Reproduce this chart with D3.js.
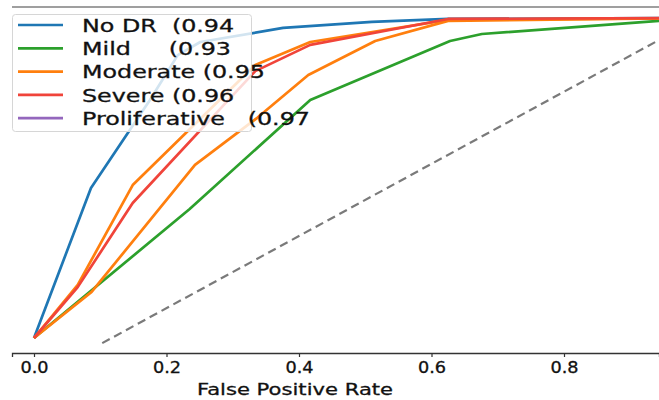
<!DOCTYPE html>
<html>
<head>
<meta charset="utf-8">
<script src="https://cdn.jsdelivr.net/npm/d3@7"></script>
<style>
  body { margin: 0; background: #fff; }
  svg { display: block; font-family: "DejaVu Sans", sans-serif; }
</style>
</head>
<body>
<svg width="659" height="400"></svg>
<script>
// ROC points (false positive rate, true positive rate)
var fprNoDR = [0, 0.086, 0.175, 0.217, 0.251, 0.376, 0.510, 0.625, 1.0];
var tprNoDR = [0, 0.469, 0.744, 0.884, 0.925, 0.969, 0.988, 0.997, 1.0];

var fprMild = [0, 0.235, 0.417, 0.628, 0.676, 1.0];
var tprMild = [0, 0.403, 0.744, 0.928, 0.950, 1.0];

var fprModerate = [0, 0.066, 0.149, 0.334, 0.417, 0.625, 1.0];
var tprModerate = [0, 0.166, 0.478, 0.853, 0.925, 0.994, 1.0];

var fprSevere = [0, 0.066, 0.149, 0.334, 0.417, 0.625, 1.0];
var tprSevere = [0, 0.159, 0.422, 0.834, 0.916, 0.997, 1.0];

// second orange curve
var fprOrange2 = [0, 0.087, 0.243, 0.337, 0.414, 0.515, 0.625, 1.0];
var tprOrange2 = [0, 0.144, 0.541, 0.688, 0.822, 0.928, 0.991, 1.0];

// dashed reference line
var fprChance = [0.103, 1.0];
var tprChance = [-0.016, 0.995];

var labels = ["No DR  ", "Mild     ", "Moderate ", "Severe ", "Proliferative   "];
var aucText = ["(0.94", "(0.93", "(0.95", "(0.96", "(0.97"];
var xTicks = [0, 0.2, 0.4, 0.6, 0.8];

var colors = ["#1f77b4", "#2ca02c", "#ff7f0e", "#f0443a", "#9467bd"];

var svg = d3.select("svg");

var x = d3.scaleLinear().domain([0, 1]).range([34, 696.5]);
var y = d3.scaleLinear().domain([0, 1]).range([338, 18]);

var plotLeft = 12, plotRight = 659, plotTop = 7, plotBottom = 353;

svg.append("defs").append("clipPath").attr("id", "plot")
    .append("rect")
    .attr("x", plotLeft).attr("y", plotTop)
    .attr("width", plotRight - plotLeft).attr("height", plotBottom - plotTop);

// top frame line
svg.append("line")
    .attr("x1", plotLeft).attr("x2", plotRight)
    .attr("y1", plotTop).attr("y2", plotTop)
    .attr("stroke", "#7f7f7f")
    .attr("stroke-width", 1.3);

var line = d3.line()
    .x(function (d) { return x(d[0]); })
    .y(function (d) { return y(d[1]); });

function pts(fx, ty) {
    return fx.map(function (v, i) { return [v, ty[i]]; });
}

var g = svg.append("g").attr("clip-path", "url(#plot)");

g.append("path")
    .attr("d", line(pts(fprChance, tprChance)))
    .attr("fill", "none")
    .attr("stroke", "#7a7a7a")
    .attr("stroke-width", 2.2)
    .attr("stroke-dasharray", "8.5,5");

var curves = [
    { d: pts(fprNoDR, tprNoDR), c: colors[0] },
    { d: pts(fprMild, tprMild), c: colors[1] },
    { d: pts(fprOrange2, tprOrange2), c: colors[2] },
    { d: pts(fprModerate, tprModerate), c: colors[2] },
    { d: pts(fprSevere, tprSevere), c: colors[3] }
];

g.selectAll(".roc")
    .data(curves)
    .enter().append("path")
    .attr("class", "roc")
    .attr("d", function (d) { return line(d.d); })
    .attr("fill", "none")
    .attr("stroke", function (d) { return d.c; })
    .attr("stroke-width", 2.7)
    .attr("stroke-linejoin", "round");

// x axis
var xAxisScale = x.copy().domain([x.invert(plotLeft), x.invert(plotRight)]).range([plotLeft, plotRight]);
var xAxis = svg.append("g")
    .attr("transform", "translate(0," + plotBottom + ")")
    .call(d3.axisBottom(xAxisScale)
        .tickValues(xTicks)
        .tickFormat(d3.format(".1f"))
        .tickSizeOuter(0)
        .tickSize(4)
        .tickPadding(5));
xAxis.select(".domain").attr("stroke", "#333").attr("stroke-width", 1.3);
xAxis.selectAll(".tick line").attr("stroke", "#333").attr("stroke-width", 1.2);
xAxis.selectAll(".tick text")
    .attr("font-size", 15.5)
    .attr("font-family", "DejaVu Sans")
    .attr("fill", "#111")
    .attr("stroke", "#111")
    .attr("stroke-width", 0.3)
    .attr("transform", "scale(1.14,1)");

svg.append("text")
    .attr("transform", "translate(295,395) scale(1.28,1)")
    .attr("text-anchor", "middle")
    .attr("font-size", 16.5)
    .attr("fill", "#111")
    .attr("stroke", "#111")
    .attr("stroke-width", 0.3)
    .text("False Positive Rate");

// legend
var legend = svg.append("g");
legend.append("rect")
    .attr("x", 12.5).attr("y", 14.5)
    .attr("width", 239).attr("height", 117)
    .attr("rx", 3)
    .attr("fill", "rgba(255,255,255,0.8)")
    .attr("stroke", "#d6d6d6");

var rows = legend.selectAll(".row")
    .data(labels)
    .enter().append("g")
    .attr("class", "row")
    .attr("transform", function (d, i) { return "translate(0," + (25 + i * 23.3) + ")"; });

rows.append("line")
    .attr("x1", 18).attr("x2", 63)
    .attr("stroke", function (d, i) { return colors[i]; })
    .attr("stroke-width", 2.7);

rows.append("text")
    .attr("transform", "translate(82,6.8) scale(1.4,1)")
    .attr("font-size", 17)
    .attr("fill", "#111")
    .attr("stroke", "#111")
    .attr("stroke-width", 0.3)
    .style("white-space", "pre")
    .text(function (d, i) { return d + aucText[i]; });
</script>
</body>
</html>
